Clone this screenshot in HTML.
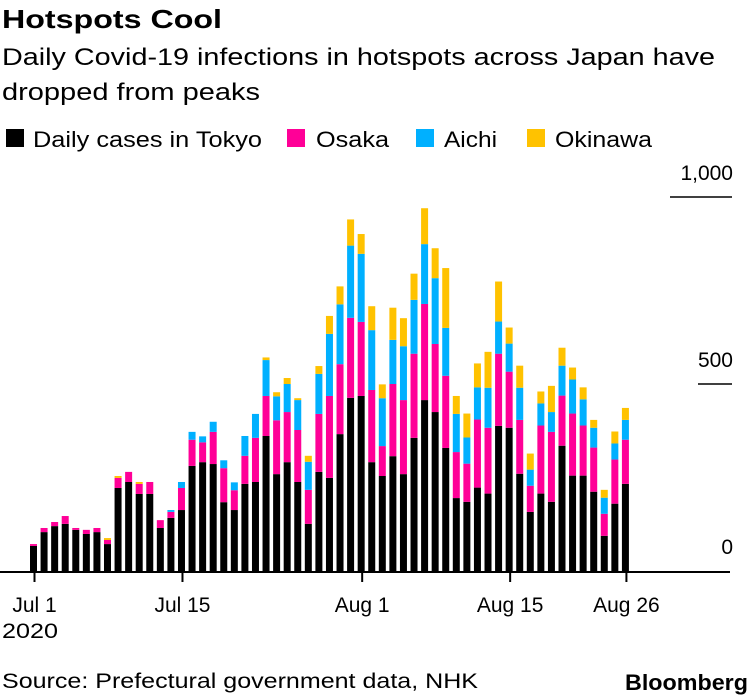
<!DOCTYPE html>
<html><head><meta charset="utf-8"><style>
body{margin:0;background:#fff;font-family:"Liberation Sans",sans-serif;}
#wrap{position:relative;width:750px;height:696px;overflow:hidden;}
text{font-family:"Liberation Sans",sans-serif;fill:#000;}
</style></head><body>
<div id="wrap">
<svg id="plot" width="750" height="696" style="position:absolute;left:0;top:0">
<text x="2" y="28" font-size="26" font-weight="bold" textLength="220" lengthAdjust="spacingAndGlyphs">Hotspots Cool</text>
<text x="2" y="65" font-size="24" textLength="713" lengthAdjust="spacingAndGlyphs">Daily Covid-19 infections in hotspots across Japan have</text>
<text x="2" y="100" font-size="24" textLength="258" lengthAdjust="spacingAndGlyphs">dropped from peaks</text>
<g>
<rect x="6" y="129" width="18" height="18" fill="#000"/>
<text x="33" y="147" font-size="22" textLength="229" lengthAdjust="spacingAndGlyphs">Daily cases in Tokyo</text>
<rect x="287" y="129" width="18" height="18" fill="#ff0097"/>
<text x="316" y="147" font-size="22" textLength="73" lengthAdjust="spacingAndGlyphs">Osaka</text>
<rect x="416" y="129" width="18" height="18" fill="#00b0ff"/>
<text x="444" y="147" font-size="22" textLength="53" lengthAdjust="spacingAndGlyphs">Aichi</text>
<rect x="527" y="129" width="18" height="18" fill="#ffc200"/>
<text x="555" y="147" font-size="22" textLength="97" lengthAdjust="spacingAndGlyphs">Okinawa</text>
</g>
<text x="2" y="638" font-size="21" textLength="56" lengthAdjust="spacingAndGlyphs">2020</text>
<text x="2" y="688" font-size="21" textLength="476" lengthAdjust="spacingAndGlyphs">Source: Prefectural government data, NHK</text>
<text x="625" y="690" font-size="22" font-weight="bold" textLength="123" lengthAdjust="spacingAndGlyphs">Bloomberg</text>
</svg>
</div>
<script>
const tokyo=[67,104,120,126,110,99,104,72,222,238,206,206,115,142,163,281,291,286,184,163,233,238,361,259,291,238,126,265,249,366,463,468,291,254,307,259,356,457,425,329,195,185,223,207,388,383,260,158,207,185,335,255,255,212,94,180,233];
const osaka=[5,11,11,21,5,11,11,11,27,27,27,32,21,16,59,70,53,86,91,53,75,118,107,144,134,139,91,155,219,187,214,198,193,80,193,198,225,257,182,193,123,102,182,176,193,150,144,70,182,187,134,166,134,118,59,118,118];
const aichi=[0,0,0,0,0,0,0,0,0,0,0,0,0,5,16,21,16,27,21,21,53,64,96,64,75,80,75,107,166,160,193,182,160,128,118,144,144,160,176,128,102,70,86,107,86,75,86,43,59,53,80,91,70,53,43,43,53];
const okinawa=[0,0,0,0,0,0,0,5,5,0,5,0,0,0,0,0,0,0,0,0,0,0,7,11,16,5,16,21,48,48,70,53,64,37,86,75,70,96,80,160,48,64,64,96,107,43,59,43,32,70,48,32,32,21,21,32,32];
const yTicks=[0,500,1000];
const yTickLabels=["0","500","1,000"];
const xTickIdx=[0,14,31,45,56];
const xTickLabels=["Jul 1","Jul 15","Aug 1","Aug 15","Aug 26"];
const svg=document.getElementById('plot');
const NS='http://www.w3.org/2000/svg';
const base=571, k=0.374, x0=33.5, step=10.57, bw=7;
const X=i=>x0+i*step;
const Y=v=>base-v*k;
const series=[[tokyo,'#000','tokyo'],[osaka,'#ff0097','osaka'],[aichi,'#00b0ff','aichi'],[okinawa,'#ffc200','okinawa']];
for(let i=0;i<tokyo.length;i++){
  let cum=0;
  for(const [arr,col,nm] of series){
    const v=arr[i]; if(!v){continue;}
    const r=document.createElementNS(NS,'rect');
    r.setAttribute('x',X(i)-bw/2);
    r.setAttribute('y',Y(cum+v));
    r.setAttribute('width',bw);
    r.setAttribute('height',v*k);
    r.setAttribute('fill',col);
    
    
    svg.appendChild(r);
    cum+=v;
  }
}
const ax=document.createElementNS(NS,'line');
ax.setAttribute('x1',0);ax.setAttribute('x2',730);ax.setAttribute('y1',base+1);ax.setAttribute('y2',base+1);
ax.setAttribute('stroke','#000');ax.setAttribute('stroke-width',2);


svg.appendChild(ax);
xTickIdx.forEach((d,j)=>{
  const l=document.createElementNS(NS,'line');
  l.setAttribute('x1',X(d)+1);l.setAttribute('x2',X(d)+1);l.setAttribute('y1',base);l.setAttribute('y2',base+11);
  l.setAttribute('stroke','#000');l.setAttribute('stroke-width',2);
  
  
  svg.appendChild(l);
  const t=document.createElementNS(NS,'text');
  t.setAttribute('x',X(d)+1);t.setAttribute('y',612);t.setAttribute('text-anchor','middle');
  t.setAttribute('font-size','21');
  t.textContent=xTickLabels[j];
  
  
  svg.appendChild(t);
});
yTicks.forEach((v,j)=>{
  const t=document.createElementNS(NS,'text');
  t.setAttribute('x',733);t.setAttribute('y',Y(v)-17);t.setAttribute('text-anchor','end');
  t.setAttribute('font-size','21');
  t.textContent=yTickLabels[j];
  
  
  svg.appendChild(t);
  if(v>0){
    const l=document.createElementNS(NS,'line');
    l.setAttribute('x1',v>=1000?670:698);l.setAttribute('x2',732);l.setAttribute('y1',Y(v));l.setAttribute('y2',Y(v));
    l.setAttribute('stroke','#000');l.setAttribute('stroke-width',1.5);
    
    
    svg.appendChild(l);
  }
});
</script>
</body></html>
